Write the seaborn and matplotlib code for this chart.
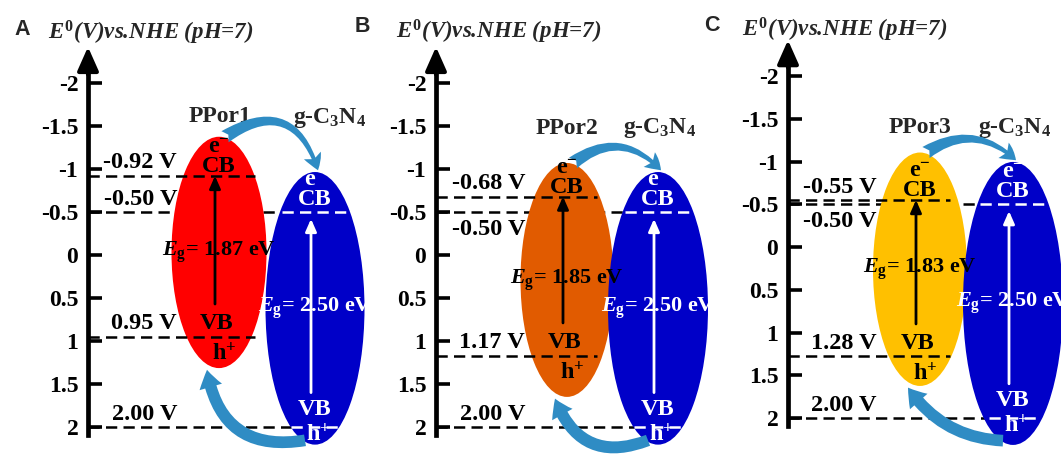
import matplotlib
matplotlib.use("Agg")
import matplotlib.pyplot as plt
import seaborn as sns
from matplotlib.patches import Ellipse, FancyArrowPatch

# ---- band-edge data (V vs. NHE, pH 7) ----
panel_letters = ["A", "B", "C"]
ppor_names = ["PPor1", "PPor2", "PPor3"]
ppor_cb = [-0.92, -0.68, -0.55]
ppor_vb = [0.95, 1.17, 1.28]
cn_name = "g-C$_3$N$_4$"
cn_cb = -0.50
cn_vb = 2.00
tick_values = [-2, -1.5, -1, -0.5, 0, 0.5, 1, 1.5, 2]
tick_labels = ["-2", "-1.5", "-1", "-0.5", "0", "0.5", "1", "1.5", "2"]
axis_title = r"$E^{\mathit{0}}$(V)vs.NHE (pH=7)"

# ---- styling ----
ppor_colors = ["#FF0000", "#E15B00", "#FFC000"]
cn_color = "#0000C8"
arrow_color = "#2F8CC4"
DASH = (0, (4.5, 2.5))

sns.set_theme(style="white")
plt.rcParams["font.family"] = ["Liberation Serif", "DejaVu Serif"]
plt.rcParams.update({
    "mathtext.fontset": "custom",
    "mathtext.rm": "Liberation Serif:bold",
    "mathtext.it": "Liberation Serif:italic:bold",
    "mathtext.bf": "Liberation Serif:bold",
    "axes.unicode_minus": False,
})

W, H = 1061, 461
fig = plt.figure(figsize=(W / 100, H / 100), dpi=100)

# per-panel frame: x of energy axis, row of 0 V, rows per volt
frames = [dict(x0=88, y0=255, k=86.0),
          dict(x0=436, y0=255, k=86.0),
          dict(x0=788, y0=247, k=85.5)]
# ellipse geometry relative to the energy axis: (cx, cy [V], width, height [V])
ppor_shapes = [(131, -0.03, 95, 2.69), (131, 0.29, 93, 2.72), (132, 0.26, 94, 2.73)]
cn_shapes = [(227, 0.62, 99, 3.17), (222, 0.62, 100, 3.17), (225, 0.66, 100, 3.31)]
ppor_line_end = [167, 161, 162]
cn_cb_label_below = [False, True, True]
top_rad = [-0.65, -0.45, -0.39]
bottom_rad = [-0.5, -0.5, -0.25]
header_rows = [(30, 33), (27, 32), (25, 30)]      # (letter row, title row)
header_x = [(-66, 63), (-74, 63), (-76, 57)]
name_pos = [((132, 117), (242, 118)), ((131, 128), (224, 128)), ((132, 127), (227, 128))]

bold = dict(fontweight="bold")

for i in range(3):
    fr = frames[i]
    row = lambda px, fr=fr: (px - fr["y0"]) / fr["k"]
    ax = fig.add_axes([0, 0, 1, 1])
    ax.set_facecolor("none")
    ax.set_xlim(-fr["x0"], W - fr["x0"])
    ax.set_ylim((H - fr["y0"]) / fr["k"], -fr["y0"] / fr["k"])
    for s in ["top", "right", "bottom"]:
        ax.spines[s].set_visible(False)
    sp = ax.spines["left"]
    sp.set_position(("data", 0))
    sp.set_bounds(-2.2, 2.09)
    sp.set_linewidth(3.4)
    sp.set_color("black")
    sp.set_zorder(4)
    ax.set_xticks([])
    ax.set_yticks(tick_values, tick_labels)
    ax.tick_params(axis="y", direction="in", length=10, width=2.6, pad=7,
                   labelsize=17, colors="black", left=True)
    for t in ax.get_yticklabels():
        t.set_fontweight("bold")
    ax.grid(False)
    ax.add_patch(FancyArrowPatch((0, -2.1), (0, -2.42),
                                 arrowstyle="-|>,head_length=0.9,head_width=0.4",
                                 mutation_scale=16, color="black", lw=3, zorder=4,
                                 shrinkA=0, shrinkB=0))

    cb, vb = ppor_cb[i], ppor_vb[i]
    pcx, pcy, pw, ph = ppor_shapes[i]
    ccx, ccy, cw, ch = cn_shapes[i]

    # g-C3N4 band edges (black part passes beneath the ellipses)
    for lvl in (cn_cb, cn_vb):
        ax.plot([0, ccx], [lvl, lvl], ls=DASH, lw=1.8, color="black", zorder=1)
    ax.plot([ccx - 33, ccx + 33], [cn_cb, cn_cb], ls=DASH, lw=1.8, color="white", zorder=3)
    ax.plot([ccx - 24, ccx + 24], [cn_vb, cn_vb], ls=DASH, lw=1.8, color="white", zorder=3)

    ax.add_patch(Ellipse((pcx, pcy), pw, ph, facecolor=ppor_colors[i], edgecolor="none", zorder=2))
    ax.add_patch(Ellipse((ccx, ccy), cw, ch, facecolor=cn_color, edgecolor="none", zorder=2))

    # porphyrin polymer band edges
    for lvl in (cb, vb):
        ax.plot([0, ppor_line_end[i]], [lvl, lvl], ls=DASH, lw=1.8, color="black", zorder=3)

    # potential labels
    lab = dict(ha="right", va="center", fontsize=17.5, color="black", zorder=5, **bold)
    ax.text(89, cb - 0.15, f"{cb:.2f} V", **lab)
    ax.text(89, vb - 0.15, f"{vb:.2f} V", **lab)
    ax.text(89, cn_cb + (0.2 if cn_cb_label_below[i] else -0.15), f"{cn_cb:.2f} V", **lab)
    ax.text(89, cn_vb - 0.15, f"{cn_vb:.2f} V", **lab)

    # excitation arrows
    ax.annotate("", xy=(pcx - 4, cb), xytext=(pcx - 4, vb - 0.38),
                arrowprops=dict(arrowstyle="-|>,head_length=0.5,head_width=0.22",
                                color="black", lw=2.0, shrinkA=0, shrinkB=0,
                                mutation_scale=15), zorder=4)
    ax.annotate("", xy=(ccx - 4, cn_cb + 0.08), xytext=(ccx - 4, cn_vb - 0.4),
                arrowprops=dict(arrowstyle="-|>,head_length=0.5,head_width=0.22",
                                color="white", lw=2.0, shrinkA=0, shrinkB=0,
                                mutation_scale=15), zorder=4)

    # in-ellipse labels
    tk = dict(ha="center", va="center", fontsize=17.5, zorder=6, **bold)
    ax.text(pcx, cb - 0.34, "e$^{-}$", color="black", **tk)
    ax.text(pcx, cb - 0.11, "CB", color="black", **tk)
    ax.text(pcx - 2, vb - 0.15, "VB", color="black", **tk)
    ax.text(pcx + 5, vb + 0.2, "h$^{+}$", color="black", **tk)
    ax.text(ccx, cn_cb - 0.38, "e$^{-}$", color="white", **tk)
    ax.text(ccx, cn_cb - 0.15, "CB", color="white", **tk)
    ax.text(ccx, cn_vb - 0.2, "VB", color="white", **tk)
    ax.text(ccx + 3, cn_vb + 0.09, "h$^{+}$", color="white", **tk)

    eg = dict(ha="center", va="center", fontsize=16, zorder=6, **bold)
    ax.text(pcx, pcy, rf"$E_{{\mathrm{{g}}}}$= {vb - cb:.2f} eV", color="black", **eg)
    ax.text(ccx, ccy, rf"$E_{{\mathrm{{g}}}}$= {cn_vb - cn_cb:.2f} eV", color="white", **eg)

    # material names
    (nx1, ny1), (nx2, ny2) = name_pos[i]
    ax.text(nx1, row(ny1), ppor_names[i], ha="center", va="center", fontsize=17, **bold)
    ax.text(nx2, row(ny2), cn_name, ha="center", va="center", fontsize=17, **bold)

    # charge-transfer arrows
    ax.add_patch(FancyArrowPatch((pcx + 6, pcy - ph / 2), (ccx + 3, ccy - ch / 2 - 0.02),
                                 connectionstyle=f"arc3,rad={top_rad[i]}",
                                 arrowstyle="fancy,head_length=0.6,head_width=0.7,tail_width=0.5",
                                 mutation_scale=19, color=arrow_color, lw=0,
                                 shrinkA=0, shrinkB=0, zorder=5))
    ax.add_patch(FancyArrowPatch((ccx - 10, ccy + ch / 2 - 0.05), (pcx - 12, pcy + ph / 2 + 0.02),
                                 connectionstyle=f"arc3,rad={bottom_rad[i]}",
                                 arrowstyle="simple,head_length=0.6,head_width=0.8,tail_width=0.4",
                                 mutation_scale=21, color=arrow_color, lw=0,
                                 shrinkA=0, shrinkB=0, zorder=5))

    # header
    lr, tr = header_rows[i]
    lx, tx = header_x[i]
    ax.text(lx, row(lr), panel_letters[i], ha="center", va="center", fontsize=15.5,
            family="Liberation Sans", fontweight="bold")
    ax.text(tx, row(tr), axis_title, ha="center", va="center", fontsize=16.5,
            fontstyle="italic", fontweight="bold")

fig.savefig("out.png", dpi=100)
